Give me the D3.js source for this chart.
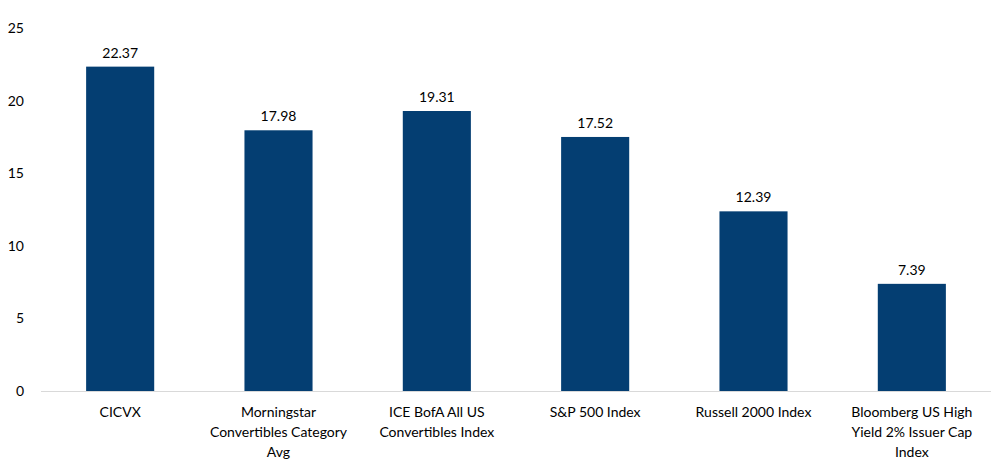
<!DOCTYPE html>
<html>
<head>
<meta charset="utf-8">
<script src="https://cdn.jsdelivr.net/npm/d3@7"></script>
<style>
body { margin: 0; background: #fff; }
text { font-family: Lato, "Open Sans", sans-serif; fill: #000; }
</style>
</head>
<body>
<div id="chart"></div>
<script>
// chart data
var categories = [
  ["CICVX"],
  ["Morningstar", "Convertibles Category", "Avg"],
  ["ICE BofA All US", "Convertibles Index"],
  ["S&P 500 Index"],
  ["Russell 2000 Index"],
  ["Bloomberg US High", "Yield 2% Issuer Cap", "Index"]
];
var values = [22.37, 17.98, 19.31, 17.52, 12.39, 7.39];
var yTicks = [0, 5, 10, 15, 20, 25];

var width = 996, height = 466;

var svg = d3.select("#chart").append("svg")
  .attr("width", width)
  .attr("height", height);

var x = d3.scaleBand()
  .domain(d3.range(values.length))
  .range([41, 991])
  .paddingInner(0.57)
  .paddingOuter(0.285);

var y = d3.scaleLinear()
  .domain([0, 25])
  .range([391, 28.5]);

// y tick labels (no axis line, no gridlines)
svg.selectAll(".ytick")
  .data(yTicks)
  .enter().append("text")
  .attr("class", "ytick")
  .attr("x", 24)
  .attr("y", function(d) { return y(d); })
  .attr("dy", "0.35em")
  .attr("text-anchor", "end")
  .attr("font-size", 14)
  .text(function(d) { return d; });

// bars
svg.selectAll(".bar")
  .data(values)
  .enter().append("rect")
  .attr("class", "bar")
  .attr("x", function(d, i) { return x(i); })
  .attr("width", x.bandwidth())
  .attr("y", function(d) { return y(d); })
  .attr("height", function(d) { return y(0) - y(d); })
  .attr("fill", "#043e72");

// value labels
svg.selectAll(".val")
  .data(values)
  .enter().append("text")
  .attr("class", "val")
  .attr("x", function(d, i) { return x(i) + x.bandwidth() / 2; })
  .attr("y", function(d) { return y(d) - 9; })
  .attr("text-anchor", "middle")
  .attr("font-size", 14)
  .text(function(d) { return d.toFixed(2); });

// baseline
svg.append("line")
  .attr("x1", x.range()[0])
  .attr("x2", x.range()[1])
  .attr("y1", y(0) + 0.5)
  .attr("y2", y(0) + 0.5)
  .attr("stroke", "#d9d9d9")
  .attr("stroke-width", 1);

// category labels, wrapped as in the original
var cat = svg.selectAll(".cat")
  .data(categories)
  .enter().append("text")
  .attr("class", "cat")
  .attr("text-anchor", "middle")
  .attr("font-size", 14);

cat.each(function(lines, i) {
  var t = d3.select(this);
  lines.forEach(function(line, k) {
    t.append("tspan")
      .attr("x", x(i) + x.bandwidth() / 2)
      .attr("y", 417 + k * 20)
      .text(line);
  });
});
</script>
</body>
</html>
